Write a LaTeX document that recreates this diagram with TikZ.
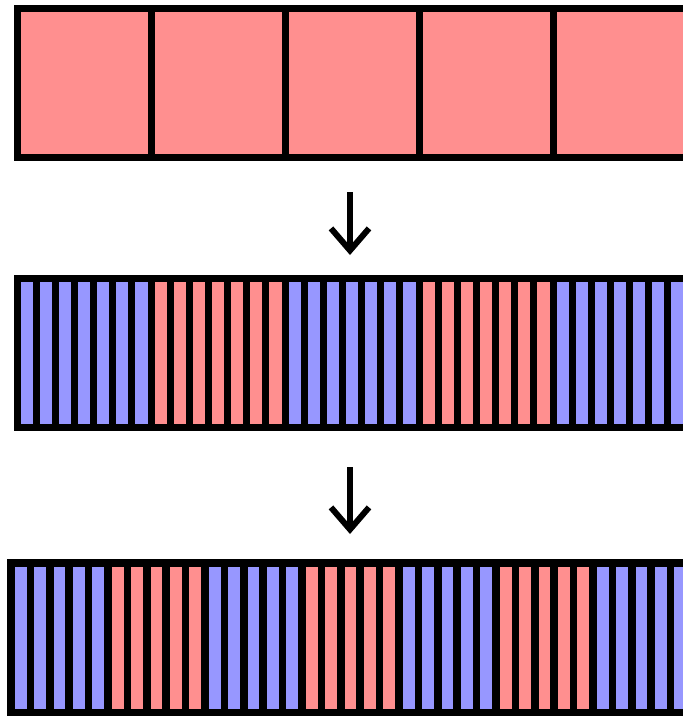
\documentclass[tikz,border=0pt]{standalone}
\usetikzlibrary{arrows.meta}
\definecolor{pinkc}{RGB}{255,143,143}
\definecolor{bluec}{RGB}{151,151,255}
\tikzset{
  cell/.style={draw=black, line width=7pt, line join=miter},
  arr/.style={line width=6pt, -{Straight Barb[length=22pt,width=38pt,line join=miter]}}
}
\begin{document}
\begin{tikzpicture}[x=1pt,y=-1pt]
\useasboundingbox (0,0) rectangle (683,716);
\fill[white] (0,0) rectangle (683,716);
\begin{scope}
\clip (0,0) rectangle (683,716);
% row 1
\foreach \i in {0,...,4}{
  \draw[cell, fill=pinkc] ({17+134*\i},8) rectangle ({17+134*(\i+1)},157);
}
% row 2
\foreach \i in {0,...,34}{
  \pgfmathtruncatemacro{\blk}{mod(floor(\i/7),2)}
  \ifnum\blk=0 \def\col{bluec}\else\def\col{pinkc}\fi
  \draw[cell, fill=\col] ({17+134/7*\i},278) rectangle ({17+134/7*(\i+1)},427);
}
% row 3
\foreach \i in {0,...,35}{
  \pgfmathtruncatemacro{\blk}{mod(floor(\i/5),2)}
  \ifnum\blk=0 \def\col{bluec}\else\def\col{pinkc}\fi
  \draw[cell, line width=7.5pt, fill=\col] ({11+19.4*\i},563) rectangle ({11+19.4*(\i+1)},713);
}
\end{scope}
\coordinate (a1s) at (350,192);
\coordinate (a1e) at (350,255);
\coordinate (a2s) at (350,467);
\coordinate (a2e) at (350,534);
\draw[arr] (a1s) -- (a1e);
\draw[arr] (a2s) -- (a2e);
\end{tikzpicture}
\end{document}
